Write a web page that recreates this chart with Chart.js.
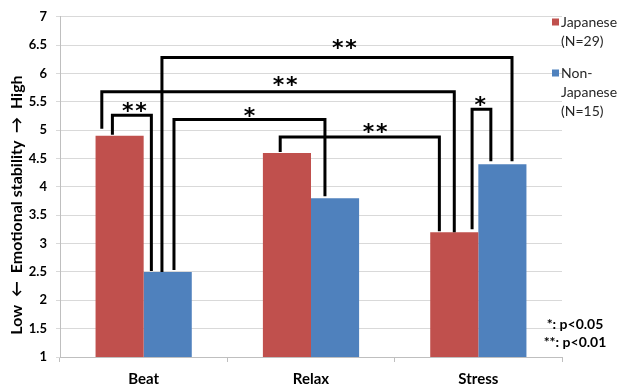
<!DOCTYPE html>
<html>
<head>
<meta charset="utf-8">
<script src="https://cdn.jsdelivr.net/npm/chart.js@4/dist/chart.umd.min.js"></script>
<style>
  html, body { margin: 0; padding: 0; background: #fff; }
  #wrap { width: 622px; height: 387px; }
</style>
</head>
<body>
<div id="wrap"><canvas id="c" width="622" height="387"></canvas></div>
<script>
// Emotional stability scores per listening condition
const categories = ['Beat', 'Relax', 'Stress'];
const japanese = [4.9, 4.6, 3.2];
const nonJapanese = [2.5, 3.8, 4.4];
const seriesLabels = [['Japanese', '(N=29)'], ['Non-', 'Japanese', '(N=15)']];
const yMin = 1, yMax = 7, yStep = 0.5;
const yTitle = 'Low  ←  Emotional stability  →  High';
const sigNotes = ['*: p<0.05', '**: p<0.01'];

// Pairwise comparisons: [series, category] pairs and their significance mark
const comparisons = [
  { a: [0, 0], b: [1, 0], mark: '**' },
  { a: [0, 0], b: [0, 2], mark: '**' },
  { a: [1, 0], b: [1, 2], mark: '**' },
  { a: [1, 0], b: [1, 1], mark: '*' },
  { a: [0, 1], b: [0, 2], mark: '**' },
  { a: [0, 2], b: [1, 2], mark: '*' }
];

// Bracket geometry: crossbar level (axis units), leg position across each bar (0..1),
// gap above the bar in px, and the mark centre as (category index, axis value)
const bracketLayout = [
  { top: 5.263, at: [0.35, 0.16], gap: [1, 1], mark: [-0.056, 5.413] },
  { top: 5.676, at: [0.13, 0.50], gap: [7, 0], mark: [0.845, 5.863] },
  { top: 6.280, at: [0.38, 0.70], gap: [0, 3], mark: [1.199, 6.522] },
  { top: 5.190, at: [0.63, 0.29], gap: [2, 2], mark: [0.632, 5.329] },
  { top: 4.880, at: [0.36, 0.19], gap: [1, 1], mark: [1.383, 5.044] },
  { top: 5.370, at: [0.87, 0.26], gap: [3, 3], mark: [2.012, 5.518] }
];

const RED = '#C0504D', BLUE = '#4F81BD';
const FONT = 'Lato, "Open Sans", "DejaVu Sans", sans-serif';

const annotations = {
  id: 'annotations',
  afterDatasetsDraw(chart) {
    const ctx = chart.ctx;
    const y = chart.scales.y, x = chart.scales.x;
    ctx.save();
    ctx.strokeStyle = '#000';
    ctx.lineWidth = 3;
    ctx.lineJoin = 'miter';
    ctx.lineCap = 'butt';
    comparisons.forEach((c, i) => {
      const L = bracketLayout[i];
      const legs = [c.a, c.b].map((ref, k) => {
        const bar = chart.getDatasetMeta(ref[0]).data[ref[1]];
        const left = bar.x - bar.width / 2;
        return { x: left + bar.width * L.at[k], y: bar.y - L.gap[k] };
      });
      const ty = y.getPixelForValue(L.top);
      ctx.beginPath();
      ctx.moveTo(legs[0].x, legs[0].y);
      ctx.lineTo(legs[0].x, ty);
      ctx.lineTo(legs[1].x, ty);
      ctx.lineTo(legs[1].x, legs[1].y);
      ctx.stroke();

      // significance mark
      ctx.fillStyle = '#000';
      ctx.font = 'bold 22px "DejaVu Sans", sans-serif';
      ctx.textAlign = 'center';
      ctx.textBaseline = 'alphabetic';
      const mx = x.getPixelForValue(L.mark[0]);
      const my = y.getPixelForValue(L.mark[1]);
      const m = ctx.measureText('*');
      const dy = (m.actualBoundingBoxAscent - m.actualBoundingBoxDescent) / 2;
      const n = c.mark.length;
      for (let j = 0; j < n; j++) {
        ctx.fillText('*', mx + (j - (n - 1) / 2) * 13.3, my + dy);
      }
    });
    ctx.restore();
  },
  afterDraw(chart) {
    const ctx = chart.ctx;
    ctx.save();
    // rotated value-axis title
    ctx.translate(17, 205);
    ctx.rotate(-Math.PI / 2);
    ctx.font = 'bold 16px ' + FONT;
    ctx.fillStyle = '#000';
    ctx.textAlign = 'center';
    ctx.textBaseline = 'middle';
    ctx.fillText(yTitle, 0, 0);
    ctx.restore();

    // series legend
    ctx.save();
    ctx.font = '14px ' + FONT;
    ctx.textBaseline = 'middle';
    ctx.textAlign = 'left';
    const legendTops = [22, 73];
    [RED, BLUE].forEach((col, i) => {
      ctx.fillStyle = col;
      ctx.fillRect(552, legendTops[i] - 3.5, 7, 7);
      ctx.fillStyle = '#262626';
      seriesLabels[i].forEach((t, k) => ctx.fillText(t, 561, legendTops[i] + k * 19));
    });
    // significance key
    ctx.font = 'bold 14px ' + FONT;
    ctx.fillStyle = '#000';
    ctx.textAlign = 'center';
    ctx.textBaseline = 'alphabetic';
    sigNotes.forEach((t, k) => ctx.fillText(t, 575, 329 + k * 18));
    ctx.restore();
  }
};

new Chart(document.getElementById('c'), {
  type: 'bar',
  data: {
    labels: categories,
    datasets: [
      { label: seriesLabels[0].join(' '), data: japanese, backgroundColor: RED },
      { label: seriesLabels[1].join(' '), data: nonJapanese, backgroundColor: BLUE }
    ]
  },
  options: {
    responsive: false,
    animation: false,
    devicePixelRatio: 1,
    layout: { padding: { left: 0, right: 60, top: 14, bottom: 0 } },
    plugins: { legend: { display: false }, tooltip: { enabled: false } },
    datasets: { bar: { categoryPercentage: 0.575, barPercentage: 1.0 } },
    scales: {
      x: {
        grid: { drawOnChartArea: false, drawTicks: true, tickLength: 5, color: '#bfbfbf', offset: true },
        border: { color: '#bfbfbf', width: 1 },
        ticks: { color: '#000', padding: 8, font: { family: FONT, size: 15, weight: 'bold' } },
        afterFit(s) { s.height = 30; }
      },
      y: {
        min: yMin, max: yMax,
        grid: { color: '#d9d9d9', tickLength: 4 },
        border: { color: '#bfbfbf', width: 1 },
        ticks: {
          stepSize: yStep, color: '#000', padding: 9,
          font: { family: FONT, size: 13, weight: 'bold' },
          callback: (v) => String(v)
        },
        afterFit(s) { s.width = 60; }
      }
    }
  },
  plugins: [annotations]
});
</script>
</body>
</html>
